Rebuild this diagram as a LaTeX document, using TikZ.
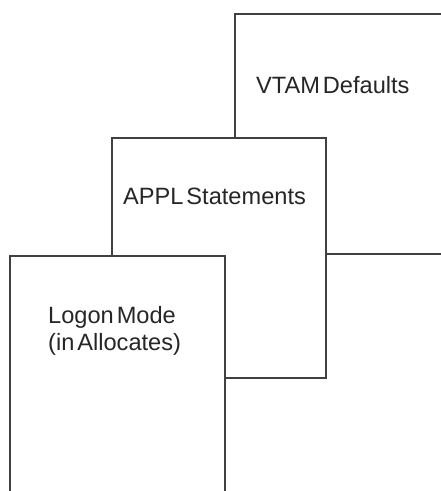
\documentclass[tikz,border=0pt]{standalone}
\usepackage{fontspec}
\setmainfont{Liberation Sans}[WordSpace=0.45]
\begin{document}
\begin{tikzpicture}[x=1pt,y=-1pt,
  sheet/.style={draw=black!75,line width=1.7pt,fill=white,anchor=north west,inner sep=0pt},
  label/.style={anchor=west,inner sep=0pt,align=left,font=\fontsize{23.6}{27}\selectfont,text=black!85}]
\useasboundingbox (0,0) rectangle (441,491);
\clip (0,0) rectangle (441,491);
\node[sheet,minimum width=240pt,minimum height=240pt] (vtam) at (234,13) {};
\node[sheet,minimum width=214pt,minimum height=240pt] (appl) at (111,137) {};
\node[sheet,minimum width=215pt,minimum height=260pt] (logon) at (9,255) {};
\node[label] (t1) at (256,85) {VTAM Defaults};
\node[label] (t2) at (123,196) {APPL Statements};
\node[label] (t3) at (48,330.5) {Logon Mode\\(in Allocates)};
\end{tikzpicture}
\end{document}
